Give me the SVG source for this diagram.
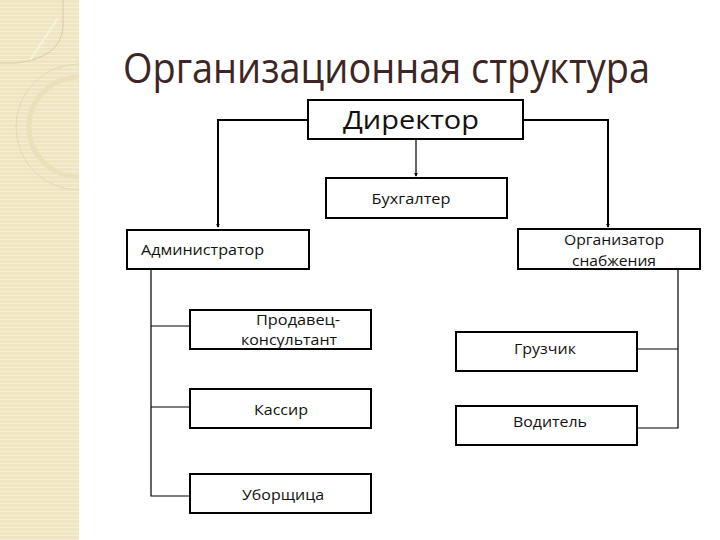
<svg xmlns="http://www.w3.org/2000/svg" width="720" height="540" viewBox="0 0 720 540">
<defs>
<pattern id="lines" width="6" height="4" patternUnits="userSpaceOnUse">
<rect width="6" height="4" fill="#efe5c3"/>
<rect y="3" width="6" height="1" fill="#f6efd6"/>
</pattern>
<clipPath id="band"><rect x="0" y="0" width="79" height="540"/></clipPath>
<marker id="arr" viewBox="0 0 6 6" refX="5" refY="3" markerWidth="4" markerHeight="4" orient="auto" markerUnits="userSpaceOnUse">
<path d="M0,0 L6,3 L0,6 z" fill="#000"/>
</marker>
</defs>
<style>
.box{fill:#fff;stroke:#000;stroke-width:2}
.t{font-family:"Open Sans","Noto Sans","DejaVu Sans",sans-serif;fill:#111;font-size:14px}
.big{font-size:26px}
.c{fill:none;stroke:#000}
.thick{stroke-width:2}
.thin{stroke-width:1.2}
</style>
<rect width="720" height="540" fill="#fff"/>
<g id="decor" clip-path="url(#band)">
<rect x="0" y="0" width="79" height="540" fill="url(#lines)"/>
<path d="M63,0 V28 Q60,58 16,63 H0" fill="none" stroke="#d9cca0" stroke-width="1"/>
<path d="M30,60 L58,18" fill="none" stroke="#f8f2de" stroke-width="2"/>
<circle cx="79" cy="127" r="63" fill="none" stroke="#e4d9b0" stroke-width="1"/>
<circle cx="79" cy="127" r="50" fill="none" stroke="#eae0ba" stroke-width="5"/>
</g>
<text id="title" x="123" y="83" font-family="'Open Sans','Noto Sans',sans-serif" font-size="42" fill="#3c2626" textLength="527" lengthAdjust="spacingAndGlyphs">Организационная структура</text>
<g id="connectors">
<path class="c thick" d="M308,120 H218 V227" marker-end="url(#arr)"/>
<path class="c thick" d="M523,120 H608 V227" marker-end="url(#arr)"/>
<path class="c thin" d="M416,140 V176" marker-end="url(#arr)"/>
<path class="c thin" d="M151,270 V496 H190 M151,326 H190 M151,407 H190"/>
<path class="c thin" d="M678,269 V428 H637 M678,349 H637"/>
</g>
<g id="director">
<rect class="box" x="308" y="100" width="215" height="39"/>
<text class="t big" x="411" y="129" text-anchor="middle" textLength="136" lengthAdjust="spacingAndGlyphs">Директор</text>
</g>
<g id="accountant">
<rect class="box" x="326" y="178" width="181" height="40"/>
<text class="t" x="411" y="204" text-anchor="middle" textLength="79" lengthAdjust="spacingAndGlyphs">Бухгалтер</text>
</g>
<g id="admin">
<rect class="box" x="127" y="230" width="182" height="39"/>
<text class="t" x="141" y="255" textLength="123" lengthAdjust="spacingAndGlyphs">Администратор</text>
</g>
<g id="supply">
<rect class="box" x="518" y="229" width="182" height="40"/>
<text class="t" x="614" y="245" text-anchor="middle" textLength="100" lengthAdjust="spacingAndGlyphs">Организатор</text>
<text class="t" x="614" y="266" text-anchor="middle" textLength="84" lengthAdjust="spacingAndGlyphs">снабжения</text>
</g>
<g id="seller">
<rect class="box" x="190" y="310" width="181" height="39"/>
<text class="t" x="298" y="325" text-anchor="middle" textLength="84" lengthAdjust="spacingAndGlyphs">Продавец-</text>
<text class="t" x="289" y="345" text-anchor="middle" textLength="96" lengthAdjust="spacingAndGlyphs">консультант</text>
</g>
<g id="cashier">
<rect class="box" x="190" y="389" width="181" height="39"/>
<text class="t" x="281" y="415" text-anchor="middle" textLength="54" lengthAdjust="spacingAndGlyphs">Кассир</text>
</g>
<g id="cleaner">
<rect class="box" x="190" y="474" width="181" height="39"/>
<text class="t" x="283" y="500" text-anchor="middle" textLength="82" lengthAdjust="spacingAndGlyphs">Уборщица</text>
</g>
<g id="loader">
<rect class="box" x="456" y="332" width="181" height="39"/>
<text class="t" x="545" y="354" text-anchor="middle" textLength="62" lengthAdjust="spacingAndGlyphs">Грузчик</text>
</g>
<g id="driver">
<rect class="box" x="456" y="406" width="181" height="39"/>
<text class="t" x="550" y="427" text-anchor="middle" textLength="74" lengthAdjust="spacingAndGlyphs">Водитель</text>
</g>
</svg>
